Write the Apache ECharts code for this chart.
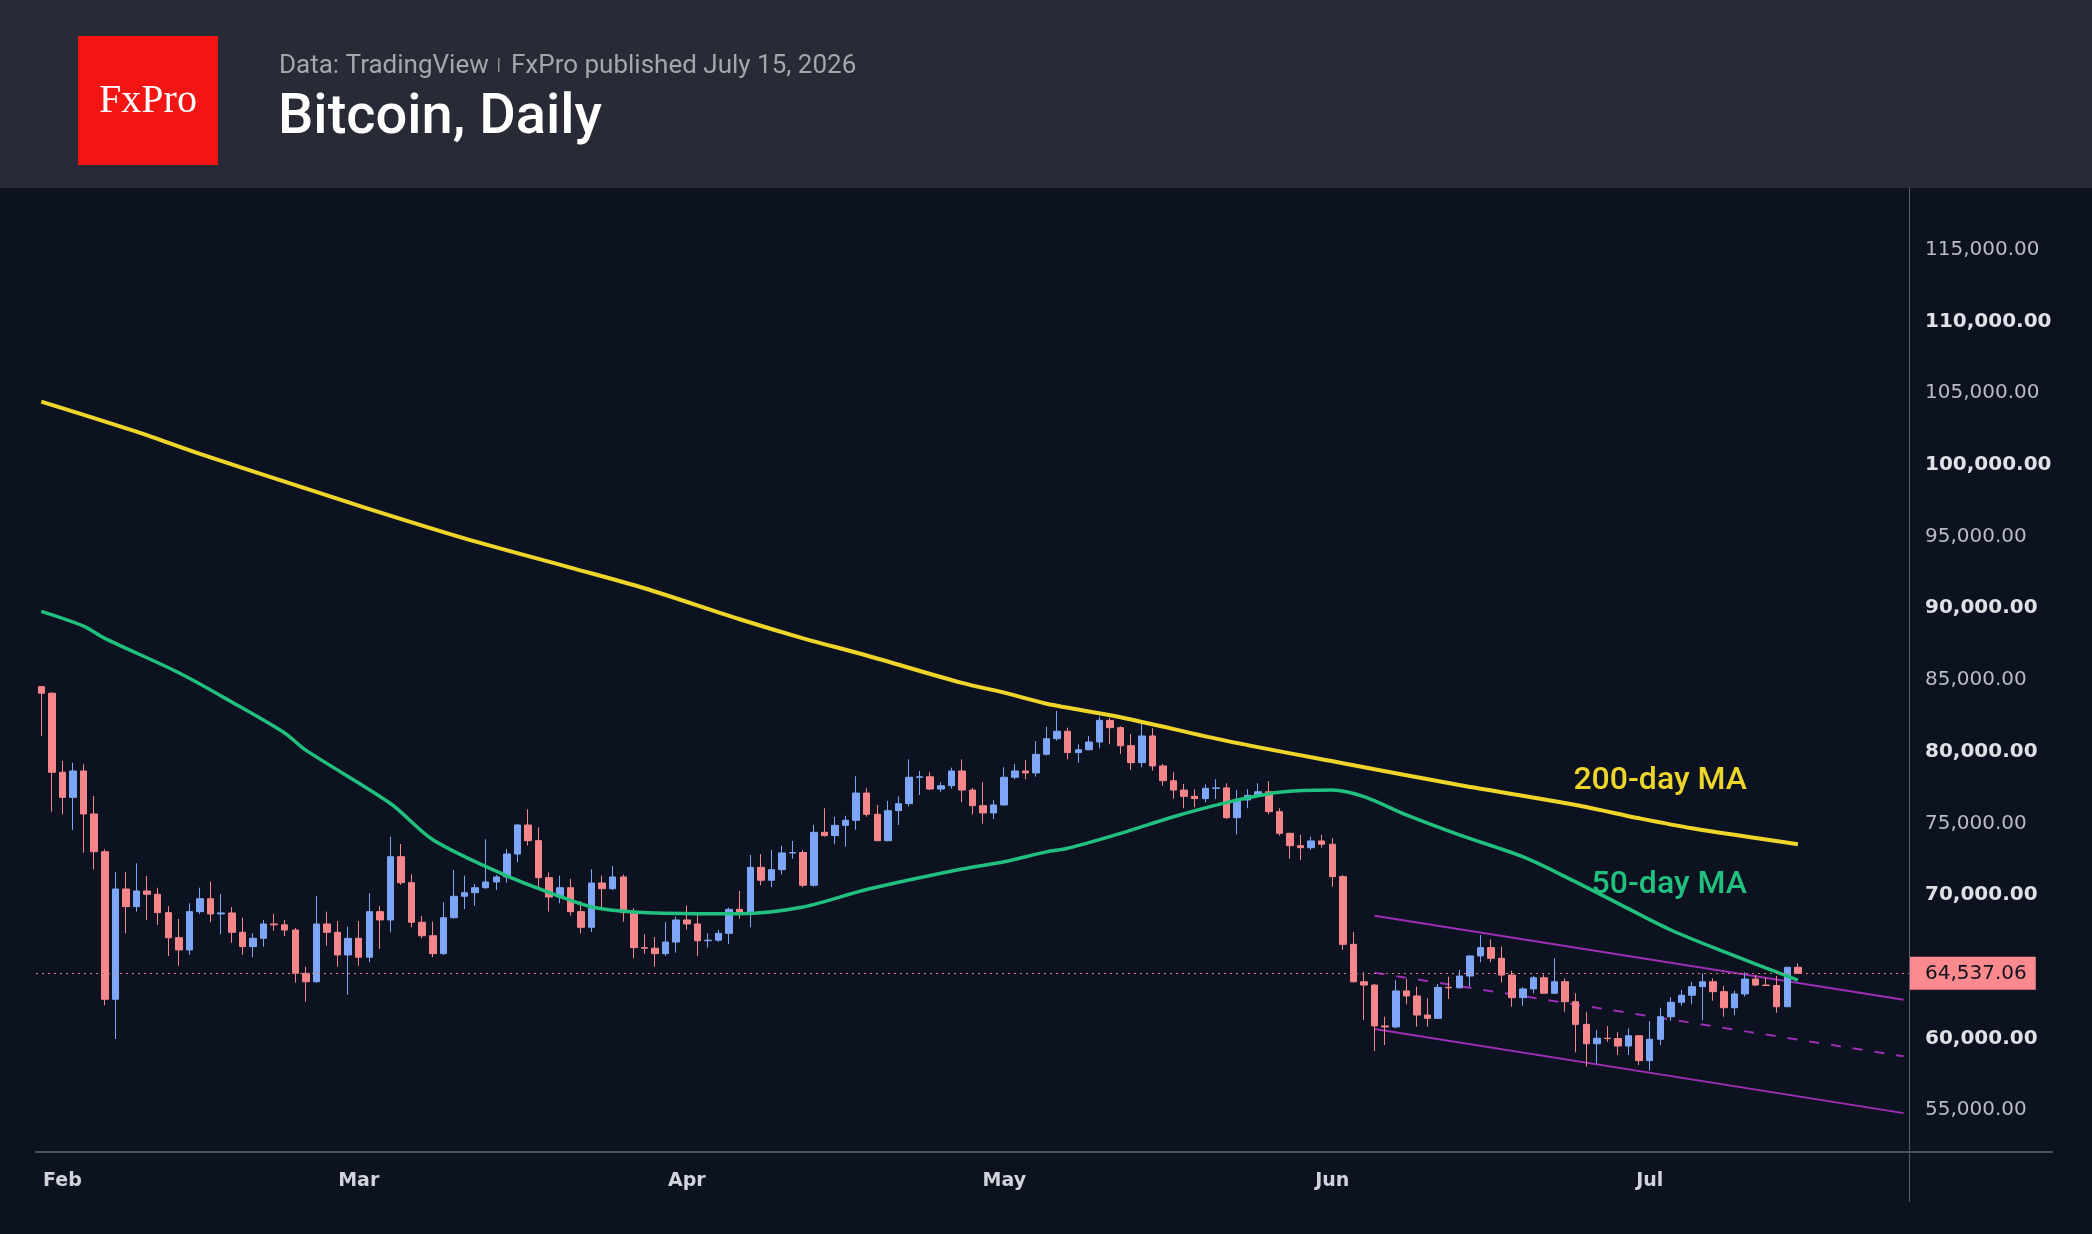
<!DOCTYPE html>
<html>
<head>
<meta charset="utf-8">
<title>Bitcoin, Daily</title>
<script src="https://cdn.jsdelivr.net/npm/echarts@6/dist/echarts.min.js"></script>
<style>
  html, body { margin: 0; padding: 0; background: #0c1220; }
  #chart { width: 2092px; height: 1234px; }
</style>
</head>
<body>
<div id="chart"></div>
<script>
// daily candles 30 Jan - 15 Jul 2026, axis runs on to 25 Jul (room for the channel)
const firstDay = "2026-01-30";
const dayCount = 177;
const monthNames = ["Jan", "Feb", "Mar", "Apr", "May", "Jun", "Jul", "Aug", "Sep", "Oct", "Nov", "Dec"];

const opens = [
  84530, 84070,
  78560, 76810, 78650, 75650, 73020, 62730, 70420, 69190, 70280, 70050, 68770, 67020, 66170, 68840,
  69740, 68680, 68750, 67400, 66400, 66980, 67980, 67920, 67560, 64540, 63950, 67980, 67400, 65820,
  66980, 65660, 68840, 68260, 72670, 70860, 68100, 67160, 65910, 68420, 69910, 70160, 70510, 70910, 71260, 72860,
  74880, 73790, 71210, 69860, 70510, 68840, 67750, 70840, 70440, 71260, 68770, 66330, 66290, 65910, 66720,
  68260, 67980, 66810, 66850, 67330, 69000, 68770, 71930, 71030, 71770, 72930, 72960, 70680, 74370, 74140,
  74860, 75210, 77110, 75630, 73790, 75880, 76370, 78210, 78240, 77390, 77620, 78650, 77320, 76230, 75720,
  76280, 78210, 78650, 78510, 79810, 80900, 81420, 79930, 80130, 80670, 82180, 81670, 80410, 79230, 81090, 79000,
  77970, 77320, 76880, 76720, 77440, 77470, 75390, 76630, 76950, 77200, 75810, 74300, 73440, 73300, 73770,
  73540, 71280, 66560, 63950, 63720, 60870, 60800, 63310, 62960, 61630, 61400, 63560, 63530, 64350, 65750,
  66330, 65590, 64420, 62840, 63450, 64230, 63150, 63950, 62560, 60980, 59630, 60010, 59990, 59470, 60190,
  58450, 59940, 61510, 62520, 63010, 63610, 63950, 63260, 62140, 63100, 64140, 63720, 63690, 62210, 64960
];
const closes = [
  84070, 78560,
  76810, 78650, 75650, 73020, 62730, 70420, 69190, 70280, 70050, 68770, 67020, 66170, 68840, 69740,
  68680, 68750, 67400, 66400, 66980, 67980, 67920, 67560, 64540, 63950, 67980, 67400, 65820, 66980,
  65660, 68840, 68260, 72670, 70860, 68100, 67160, 65910, 68420, 69910, 70160, 70510, 70910, 71260, 72860, 74880,
  73790, 71210, 69860, 70510, 68840, 67750, 70840, 70440, 71260, 68770, 66330, 66290, 65910, 66720, 68260,
  67980, 66810, 66850, 67330, 69000, 68770, 71930, 71030, 71770, 72930, 72960, 70680, 74370, 74140, 74860,
  75210, 77110, 75630, 73790, 75880, 76370, 78210, 78240, 77390, 77620, 78650, 77320, 76230, 75720, 76280,
  78210, 78650, 78510, 79810, 80900, 81420, 79930, 80130, 80670, 82180, 81670, 80410, 79230, 81090, 79000, 77970,
  77320, 76880, 76720, 77440, 77470, 75390, 76630, 76950, 77200, 75810, 74300, 73440, 73300, 73770, 73540,
  71280, 66560, 63950, 63720, 60870, 60800, 63310, 62960, 61630, 61400, 63560, 63530, 64350, 65750, 66330,
  65590, 64420, 62840, 63450, 64230, 63150, 63950, 62560, 60980, 59630, 60010, 59990, 59470, 60190, 58450,
  59940, 61510, 62520, 63010, 63610, 63950, 63260, 62140, 63100, 64140, 63720, 63690, 62210, 64960, 64537.06
];
const highs = [
  84580, 84150,
  79350, 79230, 79120, 76910, 73190, 71600, 71600, 72210, 71330, 70510, 69230, 68330, 69420, 70510,
  70930, 70070, 69160, 68420, 67330, 68260, 68680, 68260, 67700, 65000, 69930, 68840, 68190, 67790,
  68190, 70120, 69230, 74070, 73560, 71440, 68540, 68140, 69490, 71740, 71350, 70770, 73890, 71400, 73210, 74950,
  75980, 74720, 71580, 71350, 71120, 69580, 71790, 71350, 72020, 71440, 69070, 67260, 67070, 68100, 68490,
  69250, 68660, 67330, 67580, 69120, 70280, 72790, 72860, 73140, 73440, 73770, 73140, 74880, 76050, 75440,
  75530, 78280, 77440, 76280, 76560, 76880, 79460, 78650, 78560, 77860, 78880, 79460, 77480, 77860, 76610,
  78910, 79140, 79420, 80740, 81740, 82830, 81670, 80510, 81090, 82440, 82360, 81770, 81230, 81980, 81630, 79140,
  78560, 77740, 77370, 77720, 78070, 77790, 77320, 77370, 77790, 77950, 76050, 74350, 74190, 74070, 74190,
  73960, 71400, 67420, 64610, 63790, 61510, 64070, 64140, 63610, 62800, 63790, 64300, 64770, 65820, 67210,
  66910, 66400, 64720, 63560, 64350, 64470, 65590, 64190, 63150, 61860, 60590, 60870, 60430, 60700, 60220,
  61210, 62140, 62870, 63380, 63950, 64540, 64190, 63650, 63330, 64610, 64420, 64230, 64370, 64960, 65240
];
const lows = [
  81090, 75810,
  75630, 74530, 72950, 71790, 62310, 59960, 67330, 68840, 68260, 67910, 65750, 65070, 65820, 68680,
  68100, 67260, 66670, 65820, 65660, 66400, 67510, 67140, 63890, 62560, 63890, 66470, 65000, 63030,
  65070, 65310, 66240, 67400, 70700, 67750, 66980, 65660, 65820, 68350, 69020, 69250, 70440, 70350, 70860, 72280,
  73440, 70540, 68840, 69420, 68560, 67330, 67420, 68930, 70350, 68140, 65590, 65910, 65000, 65750, 65980,
  67580, 65750, 66330, 66740, 66580, 68350, 67750, 70680, 70540, 71440, 72530, 70540, 70580, 74070, 73540,
  73370, 74550, 75460, 73750, 73750, 74880, 76160, 76970, 77320, 77200, 77410, 76470, 75630, 74970, 75300,
  76230, 78070, 78070, 78250, 79740, 80760, 79460, 79230, 80090, 80230, 80510, 79830, 78720, 78910, 78670, 77620,
  76720, 76050, 76120, 76470, 76680, 75300, 74230, 76050, 76860, 75630, 74140, 72530, 72440, 73140, 73300,
  70580, 66170, 63900, 61280, 59120, 59540, 60700, 62380, 60820, 60820, 61380, 62750, 63490, 63610, 65310,
  65310, 63910, 62210, 62280, 63150, 63130, 63130, 61860, 59030, 58030, 58260, 59770, 58840, 58840, 58150,
  57750, 59540, 61230, 62280, 62380, 61280, 62630, 61510, 61630, 62910, 63650, 63650, 61790, 62210, 64537.06
];

// moving averages at these days
const ma200Dates = ["2026-01-30", "2026-02-08", "2026-02-14", "2026-02-22", "2026-03-01", "2026-03-11",
  "2026-03-21", "2026-03-28", "2026-04-06", "2026-04-12", "2026-04-18", "2026-04-27", "2026-05-01",
  "2026-05-05", "2026-05-12", "2026-05-22", "2026-06-02", "2026-06-13", "2026-06-24", "2026-06-30",
  "2026-07-05", "2026-07-15"];
const ma200Values = [104410, 102310, 100760, 98830, 97150, 94870, 92830, 91390, 89230, 87900, 86700,
  84790, 84110, 83340, 82400, 80750, 79190, 77670, 76280, 75350, 74650, 73540];

const ma50Dates = ["2026-01-30", "2026-02-03", "2026-02-05", "2026-02-12", "2026-02-17", "2026-02-22",
  "2026-02-24", "2026-03-04", "2026-03-08", "2026-03-15", "2026-03-20", "2026-03-23", "2026-03-27",
  "2026-04-02", "2026-04-06", "2026-04-12", "2026-04-18", "2026-04-27", "2026-05-01", "2026-05-05",
  "2026-05-07", "2026-05-12", "2026-05-17", "2026-05-22", "2026-05-27", "2026-06-01", "2026-06-04",
  "2026-06-08", "2026-06-13", "2026-06-19", "2026-06-23", "2026-06-28", "2026-07-03", "2026-07-08",
  "2026-07-15"];
const ma50Values = [89780, 88750, 87900, 85500, 83460, 81300, 80100, 76380, 73860, 71330, 69900, 69170,
  68820, 68700, 68700, 69170, 70380, 71810, 72320, 73010, 73260, 74300, 75460, 76440, 77160, 77320,
  76860, 75580, 74190, 72670, 71280, 69420, 67560, 66050, 64070];

// drawn channel (start, end)
const channelDates = ["2026-06-05", "2026-07-25"];
const channelUpper = [68560, 62690];
const channelMiddle = [64580, 58750];
const channelLower = [60660, 54790];

const lastPrice = 64537.06;
const priceTicks = [55000, 60000, 65000, 70000, 75000, 80000, 85000, 90000, 95000, 100000, 105000, 110000, 115000];

function dayList(start, n) {
  const out = [];
  const t0 = Date.parse(start + "T00:00:00Z");
  for (let i = 0; i < n; i++) out.push(new Date(t0 + i * 86400000).toISOString().slice(0, 10));
  return out;
}
function fmtPrice(v) {
  return Number(v).toLocaleString("en-US", { minimumFractionDigits: 2, maximumFractionDigits: 2 });
}

const days = dayList(firstDay, dayCount);
const candles = opens.map((o, i) => [o, closes[i], lows[i], highs[i]]);
const pairs = (xs, ys) => xs.map((x, i) => [x, ys[i]]);

const UP = "#7ea6f7", DOWN = "#f7868b", PURPLE = "#9c2fb3";
const YELLOW = "#eed52a", GREEN = "#22c07e";

const chart = echarts.init(document.getElementById("chart"));
const option = {
  backgroundColor: "#0c1220",
  animation: false,
  grid: { left: 36, right: 183, top: 188, bottom: 82 },
  xAxis: {
    type: "category",
    data: days,
    boundaryGap: true,
    axisLine: { show: true, lineStyle: { color: "#4e525c", width: 2 } },
    axisTick: { show: false },
    splitLine: { show: false },
    axisLabel: {
      interval: (idx, val) => val.slice(8) === "01",
      formatter: (val) => monthNames[+val.slice(5, 7) - 1],
      color: "#d1d4dc",
      fontFamily: "DejaVu Sans",
      fontWeight: "bold",
      fontSize: 19,
      margin: 20,
    },
  },
  yAxis: {
    type: "value",
    position: "right",
    min: 52080,
    max: 119300,
    axisLine: { show: true, lineStyle: { color: "#5a5d66", width: 1 } },
    axisTick: { show: false },
    splitLine: { show: false },
    axisLabel: {
      customValues: priceTicks,
      margin: 16,
      formatter: (v) => (v % 10000 === 0 ? "{b|" + fmtPrice(v) + "}" : "{n|" + fmtPrice(v) + "}"),
      rich: {
        b: { fontFamily: "DejaVu Sans", fontSize: 20, fontWeight: "bold", color: "#dfe1e6" },
        n: { fontFamily: "DejaVu Sans", fontSize: 20, color: "#b8bbc2" },
      },
    },
  },
  series: [
    {
      type: "candlestick",
      data: candles,
      barWidth: 7,
      itemStyle: { color: UP, color0: DOWN, borderColor: UP, borderColor0: DOWN, borderWidth: 1 },
      markLine: {
        silent: true,
        symbol: ["none", "none"],
        data: [{ yAxis: lastPrice }],
        lineStyle: { color: "#d9787d", type: [2, 4], width: 1 },
        label: {
          show: true,
          position: "end",
          distance: 1,
          formatter: () => fmtPrice(lastPrice),
          backgroundColor: "#fb8a8f",
          color: "#10131c",
          fontFamily: "DejaVu Sans",
          fontSize: 20,
          lineHeight: 22,
          padding: [6, 9, 5, 15],
        },
      },
      z: 3,
    },
    {
      name: "200-day MA",
      type: "line",
      data: pairs(ma200Dates, ma200Values),
      smooth: 0.3,
      showSymbol: false,
      lineStyle: { color: YELLOW, width: 4 },
      z: 4,
    },
    {
      name: "50-day MA",
      type: "line",
      data: pairs(ma50Dates, ma50Values),
      smooth: 0.3,
      showSymbol: false,
      lineStyle: { color: GREEN, width: 3.5 },
      z: 4,
    },
    {
      type: "line",
      data: pairs(channelDates, channelUpper),
      showSymbol: false,
      lineStyle: { color: PURPLE, width: 2 },
      z: 2,
    },
    {
      type: "line",
      data: pairs(channelDates, channelMiddle),
      showSymbol: false,
      lineStyle: { color: PURPLE, width: 2, type: [10, 12] },
      z: 2,
    },
    {
      type: "line",
      data: pairs(channelDates, channelLower),
      showSymbol: false,
      lineStyle: { color: PURPLE, width: 2 },
      z: 2,
    },
  ],
  graphic: [
    // header band
    { type: "rect", shape: { x: 0, y: 0, width: 2092, height: 188 }, style: { fill: "#282a36" } },
    { type: "rect", shape: { x: 78, y: 36, width: 140, height: 129 }, style: { fill: "#f31414" } },
    {
      type: "text", x: 148, y: 101,
      style: { text: "FxPro", fill: "#ffffff", font: "40px 'Liberation Serif'", align: "center", verticalAlign: "middle" },
    },
    {
      type: "text", x: 279, y: 66,
      style: { text: "Data: TradingView", fill: "#a3a6ae", font: "26px Roboto", verticalAlign: "middle" },
    },
    { type: "rect", shape: { x: 498, y: 58, width: 1.5, height: 14 }, style: { fill: "#8a8d95" } },
    {
      type: "text", x: 511, y: 66,
      style: { text: "FxPro published July 15, 2026", fill: "#a3a6ae", font: "26px Roboto", verticalAlign: "middle" },
    },
    {
      type: "text", x: 278, y: 119,
      style: { text: "Bitcoin, Daily", fill: "#ffffff", font: "500 56px Roboto", verticalAlign: "middle" },
    },
    // MA captions
    {
      type: "text", x: 1747, y: 781,
      style: { text: "200-day MA", fill: YELLOW, font: "500 32px Roboto", align: "right", verticalAlign: "middle" },
    },
    {
      type: "text", x: 1747, y: 885,
      style: { text: "50-day MA", fill: GREEN, font: "500 32px Roboto", align: "right", verticalAlign: "middle" },
    },
    // axis lines running past the plot
    { type: "line", shape: { x1: 1909, y1: 1152, x2: 2053, y2: 1152 }, style: { stroke: "#4e525c", lineWidth: 2 } },
    { type: "line", shape: { x1: 1909.5, y1: 1152, x2: 1909.5, y2: 1202 }, style: { stroke: "#5a5d66", lineWidth: 1 } },
  ],
};
chart.setOption(option);
</script>
</body>
</html>
